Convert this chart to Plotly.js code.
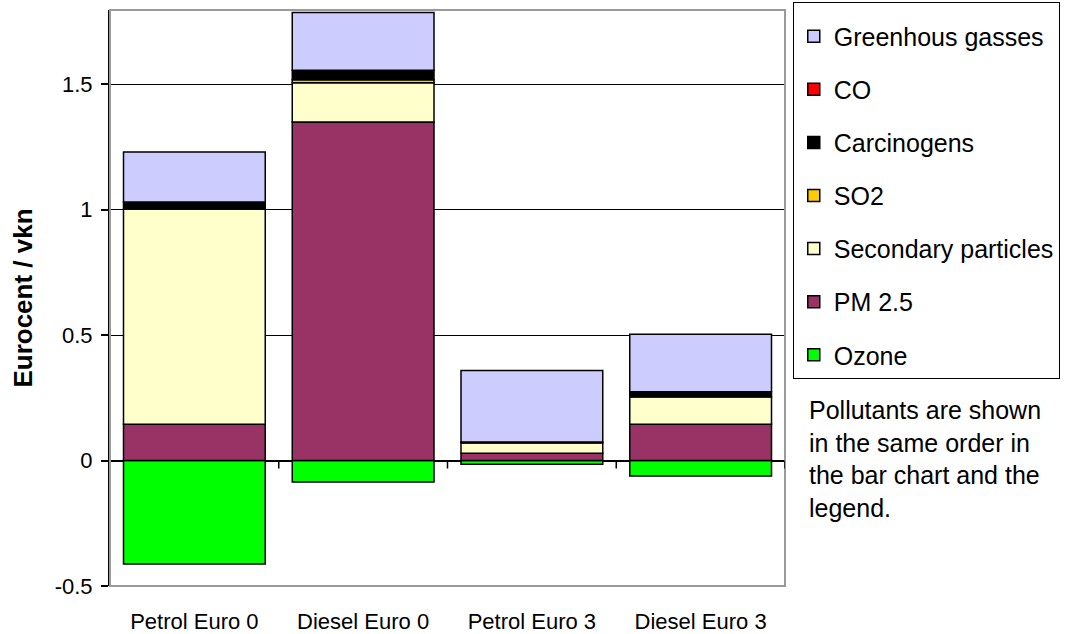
<!DOCTYPE html>
<html>
<head>
<meta charset="utf-8">
<script src="https://cdn.plot.ly/plotly-3.0.1.min.js"></script>
<style>html,body{margin:0;padding:0;background:#fff;}#chart{width:1071px;height:634px;}</style>
</head>
<body>
<div id="chart"></div>
<script>
const categories = ["Petrol Euro 0", "Diesel Euro 0", "Petrol Euro 3", "Diesel Euro 3"];
const ozone = [-0.412, -0.086, -0.015, -0.062];
const pm25 = [0.144, 1.349, 0.029, 0.144];
const secondaryParticles = [0.858, 0.156, 0.042, 0.110];
const so2 = [0.0, 0.012, 0.0, 0.0];
const carcinogens = [0.028, 0.038, 0.003, 0.020];
const co = [0.0, 0.0, 0.0, 0.0];
const greenhouse = [0.199, 0.230, 0.285, 0.229];
const yTickVals = [-0.5, 0, 0.5, 1, 1.5];
const yTickText = ["-0.5", "0", "0.5", "1", "1.5"];
const noteText = "Pollutants are shown<br>in the same order in<br>the bar chart and the<br>legend.";

const series = [
  {name: "Ozone", y: ozone, color: "#00FF00"},
  {name: "PM 2.5", y: pm25, color: "#993366"},
  {name: "Secondary particles", y: secondaryParticles, color: "#FFFFCC"},
  {name: "SO2", y: so2, color: "#FFCC00"},
  {name: "Carcinogens", y: carcinogens, color: "#000000"},
  {name: "CO", y: co, color: "#FF0000"},
  {name: "Greenhous gasses", y: greenhouse, color: "#CCCCFF"}
];

const font = "'Liberation Sans', Arial, sans-serif";

const traces = series.map((s, i) => ({
  type: "bar",
  name: s.name,
  x: categories,
  y: s.y,
  legendgroup: s.name,
  legendrank: series.length - i,
  marker: {color: s.color, line: {color: "#000000", width: 1.5}},
  hoverinfo: "x+y+name"
}));

const boundaryShapes = [0.5, 1.5, 2.5, 3.5].map(b => ({
  type: "line", xref: "x", yref: "y", ysizemode: "pixel", yanchor: 0,
  x0: b, x1: b, y0: 0, y1: -8,
  line: {color: "#000000", width: 1.5}
}));

const layout = {
  width: 1071, height: 634,
  margin: {l: 110, r: 286, t: 10, b: 48, autoexpand: false},
  paper_bgcolor: "#ffffff", plot_bgcolor: "#ffffff",
  font: {family: font, color: "#000000", size: 22},
  barmode: "relative",
  bargap: 0.16,
  showlegend: true,
  legend: {
    x: 1.0115, xanchor: "left", yref: "container", y: 0.9968, yanchor: "top",
    bgcolor: "#ffffff", bordercolor: "#000000", borderwidth: 1,
    font: {family: font, size: 25, color: "#000000"},
    title: {text: "\u00a0", font: {family: font, size: 8}},
    traceorder: "grouped", tracegroupgap: 17.6,
    itemwidth: 30, maxheight: 500
  },
  xaxis: {
    type: "category", range: [-0.5, 3.5],
    showgrid: false, zeroline: false, showline: false, ticks: "",
    tickfont: {family: font, size: 22, color: "#000000"},
    ticklabelstandoff: 20, fixedrange: true
  },
  yaxis: {
    range: [-0.5, 1.795],
    tickvals: yTickVals, ticktext: yTickText,
    showgrid: true, gridcolor: "#000000", gridwidth: 1,
    zeroline: true, zerolinecolor: "#000000", zerolinewidth: 1.5,
    showline: true, linecolor: "#000000", linewidth: 2,
    ticks: "outside", ticklen: 7, tickcolor: "#000000", tickwidth: 1.5,
    tickfont: {family: font, size: 22, color: "#000000"},
    ticklabelstandoff: 4,
    title: {text: "Eurocent / vkn", standoff: 15, font: {family: font, size: 26, color: "#000000", weight: "bold"}},
    fixedrange: true
  },
  shapes: [
    {type: "rect", xref: "paper", yref: "paper", x0: 0, x1: 1, y0: 0, y1: 1,
     line: {color: "#9a9a9a", width: 2}, layer: "above"}
  ].concat(boundaryShapes),
  annotations: [{
    xref: "paper", yref: "paper", x: 1.032, y: 0.3335, xanchor: "left", yanchor: "top",
    align: "left", showarrow: false, text: noteText,
    font: {family: font, size: 25, color: "#000000"}
  }]
};

Plotly.newPlot("chart", traces, layout, {displayModeBar: false, staticPlot: false});
</script>
</body>
</html>
